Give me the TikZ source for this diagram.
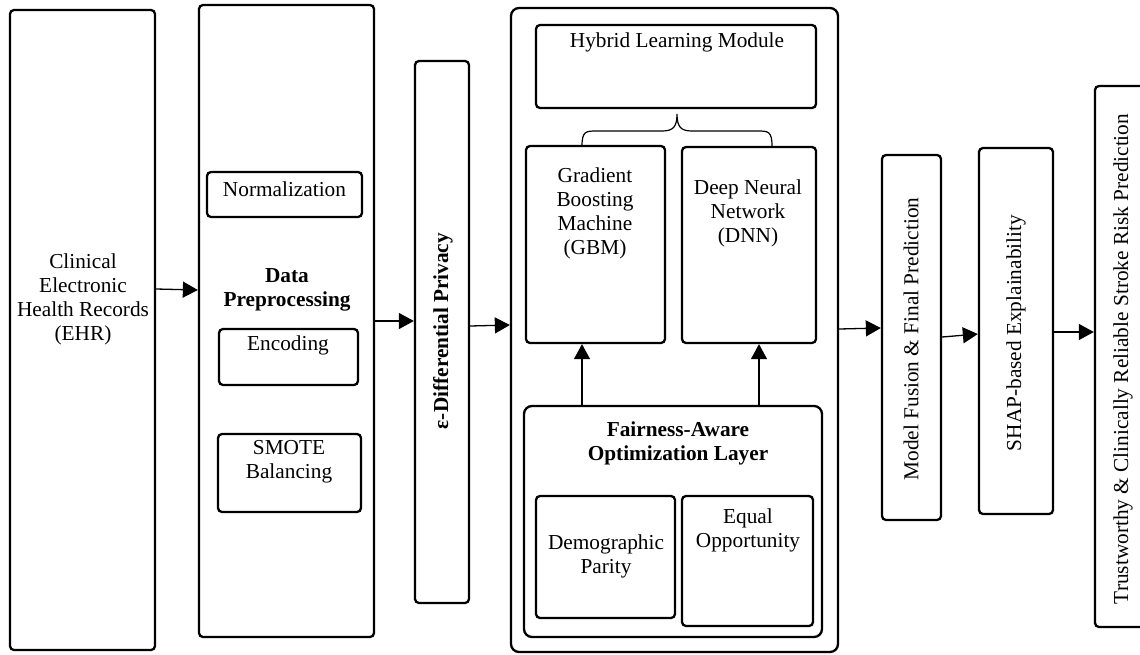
\documentclass[tikz,border=0pt]{standalone}
\usepackage{fontspec}
\setmainfont{Liberation Serif}
\usetikzlibrary{arrows.meta,fit}

\begin{document}
\begin{tikzpicture}[x=0.5pt,y=-0.5pt,
  box/.style={draw,line width=1.15pt,rounded corners=2pt,inner sep=0pt},
  txt/.style={align=center,inner sep=0pt,font=\fontsize{10.65pt}{12pt}\selectfont},
  boldtxt/.style={txt,font=\fontsize{10.65pt}{12pt}\selectfont\bfseries},
  arr/.style={line width=0.65pt,-{Triangle[length=7.5pt,width=8pt]}}]
\clip (0,0) rectangle (1140,654);

% input and preprocessing
\node[box,fit={(10,10) (155,650)}] (ehr) {};
\node[txt] (ehrtext) at (83,299) {Clinical\\Electronic\\Health Records\\(EHR)};

\node[box,fit={(199,5) (374,637)}] (prep) {};
\node[boldtxt] (preptext) at (287,290) {Data\\Preprocessing};
\node[box,fit={(207,172) (362,217)}] (norm) {};
\node[txt] (normtext) at (284.5,189) {Normalization};
\node[box,fit={(219,329) (358,385)}] (enc) {};
\node[txt] (enctext) at (288,345) {Encoding};
\node[box,fit={(218,434) (361,512)}] (smote) {};
\node[txt] (smotetext) at (289,462) {SMOTE\\Balancing};

\node[box,fit={(415,61) (469,603)}] (dp) {};
\node[boldtxt,rotate=90] (dptext) at (443,331) {ε-Differential Privacy};

% hybrid learning block
\node[box,rounded corners=4pt,fit={(511,8) (838,652)}] (hyb) {};
\node[box,fit={(536,25) (816,108)}] (hlm) {};
\node[txt] (hlmtext) at (677,42) {Hybrid Learning Module};

\node[box,fit={(526,146) (665,343)}] (gbm) {};
\node[txt] (gbmtext) at (595,213) {Gradient\\Boosting\\Machine\\(GBM)};
\node[box,fit={(682,147) (816,343)}] (dnn) {};
\node[txt] (dnntext) at (748,213) {Deep Neural\\Network\\(DNN)};

\draw[line width=0.6pt] (582,146) .. controls (582,131) and (586,131) .. (597,131)
  -- (662,131) .. controls (673,131) and (677,127) .. (677,114)
  .. controls (677,127) and (681,131) .. (692,131)
  -- (757,131) .. controls (768,131) and (772,131) .. (772,146);

\node[box,rounded corners=4pt,fit={(524,406) (822,637)}] (fair) {};
\node[boldtxt] (fairtext) at (678,443) {Fairness-Aware\\Optimization Layer};
\node[box,fit={(536,496) (675,618)}] (demo) {};
\node[txt] (demotext) at (606,556) {Demographic\\Parity};
\node[box,fit={(682,496) (813,626)}] (eqop) {};
\node[txt] (eqoptext) at (748,530) {Equal\\Opportunity};

% output stages
\node[box,fit={(882,155) (941,520)}] (mf) {};
\node[txt,rotate=90] (mftext) at (911,339) {Model Fusion \& Final Prediction};
\node[box,fit={(979,148) (1053,514)}] (shap) {};
\node[txt,rotate=90] (shaptext) at (1016,333) {SHAP-based Explainability};
\node[box,fit={(1095,86) (1151,627)}] (trust) {};
\node[txt,rotate=90] (trusttext) at (1123,359) {Trustworthy \& Clinically Reliable Stroke Risk Prediction};

\draw[arr] (ehr.east |- 0,289) -- (prep.west |- 0,290);
\draw[arr] (prep.east |- 0,321) -- (dp.west |- 0,321);
\draw[arr] (dp.east |- 0,326) -- (hyb.west |- 0,325);
\draw[arr] (hyb.east |- 0,329) -- (mf.west |- 0,328);
\draw[arr] (mf.east |- 0,337) -- (shap.west |- 0,334);
\draw[arr] (shap.east |- 0,332) -- (trust.west |- 0,332);
\draw[arr] (fair.north -| 582,0) -- (gbm.south -| 582,0);
\draw[arr] (fair.north -| 759,0) -- (dnn.south -| 759,0);
\end{tikzpicture}
\end{document}
